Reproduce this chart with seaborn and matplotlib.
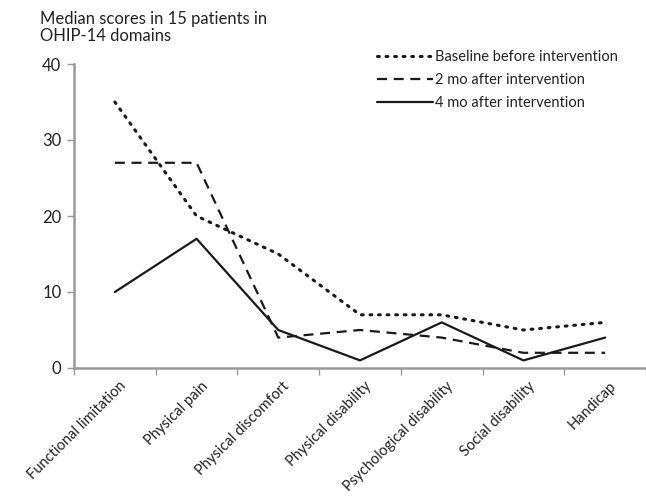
import matplotlib
matplotlib.use("Agg")
import matplotlib.pyplot as plt
import seaborn as sns
import pandas as pd
import numpy as np

categories = ["Functional limitation", "Physical pain", "Physical discomfort",
              "Physical disability", "Psychological disability", "Social disability", "Handicap"]
baseline = [35, 20, 15, 7, 7, 5, 6]
two_mo = [27, 27, 4, 5, 4, 2, 2]
four_mo = [10, 17, 5, 1, 6, 1, 4]
series_names = ["Baseline before intervention", "2 mo after intervention", "4 mo after intervention"]
y_ticks = [0, 10, 20, 30, 40]

sns.set_theme(style="white")
plt.rcParams['font.family'] = ['Lato', 'DejaVu Sans']

fig = plt.figure(figsize=(6.46, 4.98), dpi=100)
ax = fig.add_axes([74/646, 130/498, 572/646, 304/498])

df = pd.DataFrame({"cat": categories * 3,
                   "val": baseline + two_mo + four_mo,
                   "series": sum([[s] * len(categories) for s in series_names], [])})

styles = {series_names[0]: dict(dashes=(0.6, 2.2), dash_capstyle="round"),
          series_names[1]: dict(dashes=(4.5, 3)),
          series_names[2]: dict()}
for s in series_names:
    sub = df[df["series"] == s]
    sns.lineplot(data=sub, x="cat", y="val", ax=ax, color="#1a1a1a",
                 linewidth=1.6 if s != series_names[0] else 2.2, label=s, sort=False)
    l = ax.lines[-1]
    st = styles[s]
    if "dashes" in st:
        l.set_dashes(st["dashes"])
    if "dash_capstyle" in st:
        l.set_dash_capstyle(st["dash_capstyle"])

ax.set_xlim(-0.5, 6.5)
ax.set_ylim(0, 40)
ax.set_yticks(y_ticks)
ax.set_xticks(range(len(categories)))
ax.set_xticklabels(categories, rotation=45, ha="right", rotation_mode="anchor", fontsize=10.5, color="#222222")
ax.set_xticks(np.arange(-0.5, 7.0, 1.0), minor=True)
ax.tick_params(axis="x", which="major", length=0, pad=8)
ax.tick_params(axis="x", which="minor", length=5, width=1, color="#999999", direction="out", bottom=True)
ax.tick_params(axis="y", length=5, width=1, color="#999999", direction="out", left=True, labelsize=12, labelcolor="#222222", pad=4)
for lab in ax.get_xticklabels():
    lab.set_transform(lab.get_transform() + matplotlib.transforms.ScaledTranslation(4/100, 0, fig.dpi_scale_trans))
ax.set_xlabel("")
ax.set_ylabel("")
for side in ["top", "right"]:
    ax.spines[side].set_visible(False)
for side in ["left", "bottom"]:
    ax.spines[side].set_color("#999999")
    ax.spines[side].set_linewidth(1.8)

leg = ax.legend(loc="upper left", bbox_to_anchor=(290/572, 1.088), frameon=False,
                fontsize=10.5, handlelength=3.8, handletextpad=0.2, labelspacing=0.6,
                labelcolor="#222222")

fig.text(40/646, 1 - 11/498, "Median scores in 15 patients in\nOHIP-14 domains",
         ha="left", va="top", fontsize=12, color="#222222", linespacing=1.1)

fig.savefig("out.png", dpi=100)
